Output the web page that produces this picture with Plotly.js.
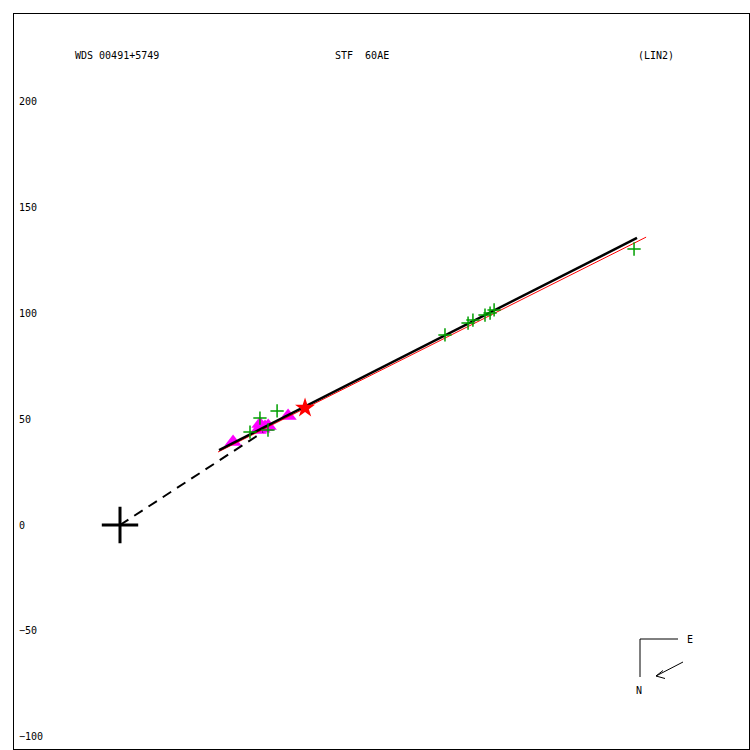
<!DOCTYPE html>
<html><head><meta charset="utf-8">
<script src="https://cdn.plot.ly/plotly-3.0.1.min.js"></script>
<style>body{margin:0;background:#fff}</style></head>
<body><div id="chart" style="width:750px;height:750px"></div>
<script>
// Observations (green plus)
const plusX = [242.8, 176.7, 174.8, 172.4, 166.7, 164.4, 153.5, 74.2, 66.1, 69.9, 61.4];
const plusY = [130.4, 101.6, 100.1, 99.2, 96.8, 95.4, 89.8, 53.9, 50.5, 44.9, 43.9];
// Magenta triangles
const triX = [53.4, 66.1, 68.5, 65.2, 67.0, 70.0, 79.4];
const triY = [39.2, 47.7, 46.3, 44.9, 45.5, 46.8, 51.5];
// Red star
const starX = [87.4];
const starY = [55.3];
// Linear fit (black) and red line
const fitX = [46.8, 244.2];
const fitY = [35.4, 135.6];
const redX = [46.3, 248.5];
const redY = [34.5, 136.0];
// Dashed line from primary
const dashX = [0, 67.5];
const dashY = [0, 43.9];
// Primary
const originX = [0];
const originY = [0];
// Axis ticks
const yTicks = [-100, -50, 0, 50, 100, 150, 200];
// Header
const headerTexts = ['WDS 00491+5749', 'STF \u00a060AE', '(LIN2)'];
const compassLabels = ['E', 'N'];

const FONT = {family: 'DejaVu Sans Mono, monospace', size: 10, color: '#000'};
const px = x => (x - 14) / 735;
const py = y => (749 - y) / 735;

const traces = [
  {x: triX, y: triY, mode: 'markers', type: 'scatter',
   marker: {symbol: 'triangle-up', size: 15, color: '#ff00ff', line: {width: 0}}},
  {x: dashX, y: dashY, mode: 'lines', type: 'scatter',
   line: {color: '#000', width: 2, dash: '10px,7px'}},
  {x: redX, y: redY, mode: 'lines', type: 'scatter',
   line: {color: '#ff0000', width: 1}},
  {x: fitX, y: fitY, mode: 'lines', type: 'scatter',
   line: {color: '#000', width: 2.5}},
  {x: plusX, y: plusY, mode: 'markers', type: 'scatter',
   marker: {symbol: 'cross-thin', size: 9.5, color: '#00a000', line: {width: 1.5, color: '#00a000'}}},
  {x: starX, y: starY, mode: 'markers', type: 'scatter',
   marker: {symbol: 'star', size: 15, color: '#ff0000', line: {width: 0}}},
  {x: originX, y: originY, mode: 'markers', type: 'scatter',
   marker: {symbol: 'cross-thin', size: 26, color: '#000', line: {width: 3, color: '#000'}}}
];

const annotations = [
  {text: headerTexts[0], x: px(73), y: py(55)},
  {text: headerTexts[1], x: px(333), y: py(55)},
  {text: headerTexts[2], x: px(636), y: py(55)},
  {text: compassLabels[0], x: px(685), y: py(639)},
  {text: compassLabels[1], x: px(634), y: py(690)}
].map(a => Object.assign({xref: 'paper', yref: 'paper', xanchor: 'left', yanchor: 'middle',
  showarrow: false, font: FONT}, a));

const seg = (x0, y0, x1, y1) => ({type: 'line', xref: 'paper', yref: 'paper',
  x0: px(x0), y0: py(y0), x1: px(x1), y1: py(y1), line: {color: '#000', width: 1}});
const shapes = [
  seg(640, 639, 678, 639),
  seg(640, 639, 640, 677),
  seg(683, 662, 656, 676),
  seg(656, 676, 663, 670.5),
  seg(656, 676, 665, 678.5)
];

const layout = {
  width: 750, height: 750,
  margin: {l: 14, r: 1, t: 14, b: 1},
  paper_bgcolor: '#fff', plot_bgcolor: '#fff',
  showlegend: false,
  xaxis: {range: [-50.07, 297.1], showgrid: false, zeroline: false, showticklabels: false,
    ticks: '', showline: true, mirror: true, linecolor: '#000', linewidth: 1},
  yaxis: {range: [-105.8, 241.4], showgrid: false, zeroline: false, tickvals: yTicks,
    ticks: '', ticklabelposition: 'inside', ticklabelstandoff: 4, tickfont: FONT,
    showline: true, mirror: true, linecolor: '#000', linewidth: 1},
  annotations: annotations,
  shapes: shapes
};
Plotly.newPlot('chart', traces, layout, {displayModeBar: false, staticPlot: true});
</script></body></html>
